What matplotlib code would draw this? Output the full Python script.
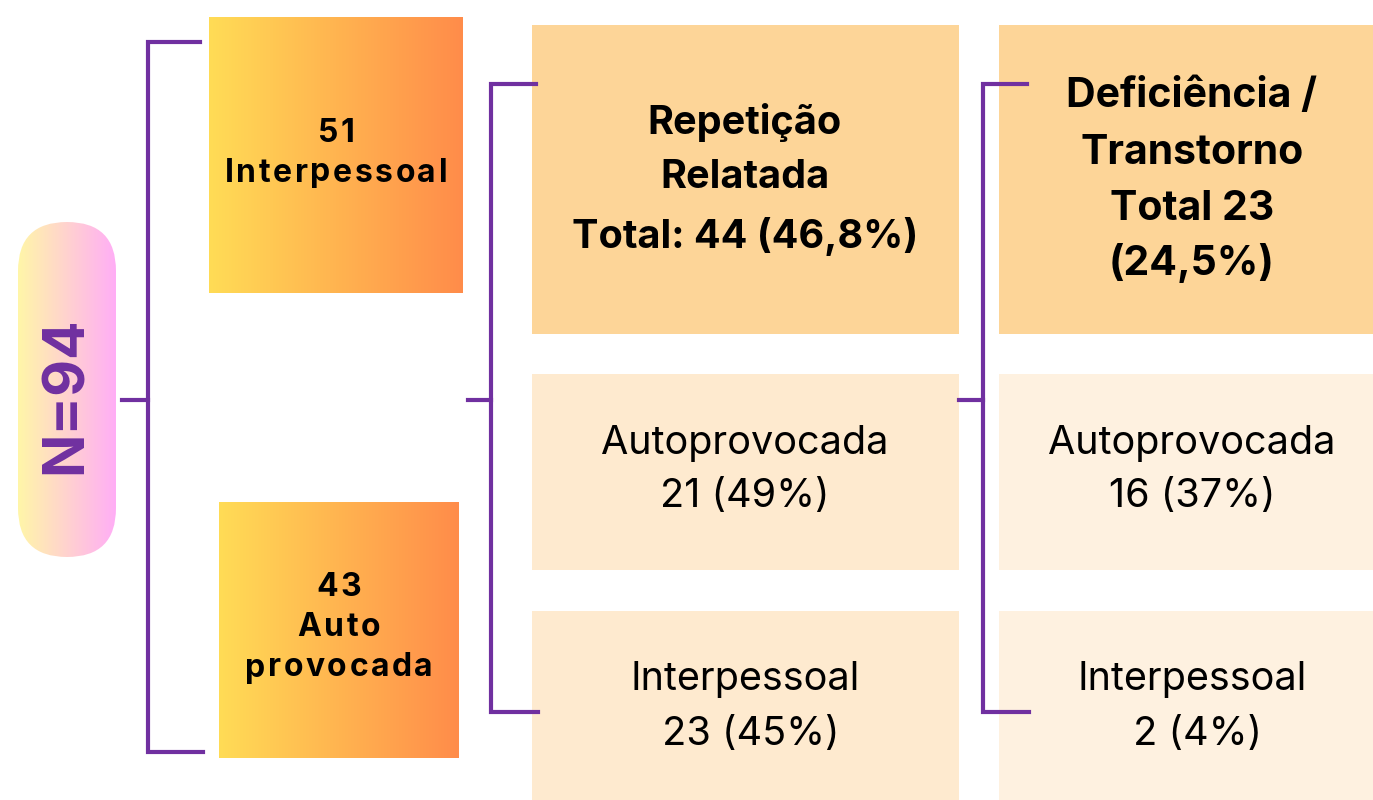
import numpy as np
import matplotlib.pyplot as plt
from matplotlib.patches import Rectangle, FancyBboxPatch
from matplotlib.colors import LinearSegmentedColormap

plt.rcParams['font.family'] = ['Inter', 'DejaVu Sans']

# ----- data
total_n = 94
first_lines = [["51", "Interpessoal"], ["43", "Auto", "provocada"]]
rep_header = ["Repetição", "Relatada", "Total: 44 (46,8%)"]
rep_labels = ["Autoprovocada", "Interpessoal"]
rep_counts = [21, 23]
rep_pcts = [49, 45]
def_header = ["Deficiência /", "Transtorno", "Total 23", "(24,5%)"]
def_labels = ["Autoprovocada", "Interpessoal"]
def_counts = [16, 2]
def_pcts = [37, 4]

# ----- style
PURPLE = '#7030A0'
TOP_FILL = '#FDD598'
MID_FILL_2 = '#FEEACF'
MID_FILL_3 = '#FEF1E0'
LW = 3

fig = plt.figure(figsize=(13.73, 8), dpi=100)
ax = fig.add_axes([0, 0, 1, 1])
ax.set_xlim(0, 1373)
ax.set_ylim(800, 0)
ax.axis('off')
renderer = fig.canvas.get_renderer()

def grad_rect(x0, y0, w, h, c0, c1, rounding=None):
    cmap = LinearSegmentedColormap.from_list('g', [c0, c1])
    grad = np.linspace(0, 1, 256).reshape(1, -1)
    im = ax.imshow(grad, cmap=cmap, aspect='auto',
                   extent=(x0, x0 + w, y0 + h, y0), zorder=1)
    if rounding:
        clip = FancyBboxPatch((x0, y0), w, h,
                              boxstyle=f"round,pad=0,rounding_size={rounding}",
                              facecolor='none', edgecolor='none')
    else:
        clip = Rectangle((x0, y0), w, h, facecolor='none', edgecolor='none')
    ax.add_patch(clip)
    im.set_clip_path(clip)

def lines_text(cx, ys, lines, **kw):
    for y, s in zip(ys, lines):
        ax.text(cx, y, s, ha='center', va='center', color='black', **kw)

def spaced_text(cx, y, s, spacing, **kw):
    # draw letters one by one to get the wide tracking of the original
    widths = []
    for ch in s:
        t = ax.text(0, 0, ch, **kw)
        widths.append(t.get_window_extent(renderer).width)
        t.remove()
    total = sum(widths) + spacing * (len(s) - 1)
    x = cx - total / 2
    for ch, w in zip(s, widths):
        ax.text(x, y, ch, ha='left', va='center', color='black', **kw)
        x += w + spacing

# ----- N pill
grad_rect(18, 222, 98, 335, '#FFF6A8', '#FFAEF6', rounding=49)
ax.text(67, 395, f"N={total_n}", rotation=90, ha='center', va='center',
        color=PURPLE, fontsize=41, fontweight='bold', zorder=3)

# ----- bracket 1
ax.plot([200, 148, 148, 203], [42, 42, 752, 752], color=PURPLE, lw=LW,
        solid_joinstyle='miter', zorder=2)
ax.plot([122, 148], [400, 400], color=PURPLE, lw=LW, zorder=2)

# ----- first-level gradient boxes
grad_rect(209, 17, 254, 276, '#FFDC56', '#FF8C4A')
grad_rect(219, 502, 240, 256, '#FFDC56', '#FF8C4A')
for y, s in zip([133, 173], first_lines[0]):
    spaced_text(336, y, s, 2.6, fontsize=23, fontweight='bold', zorder=3)
for y, s in zip([587, 628, 668], first_lines[1]):
    spaced_text(339, y, s, 2.6, fontsize=23, fontweight='bold', zorder=3)

# ----- bracket 2
ax.plot([536, 491, 491, 538], [84, 84, 712, 712], color=PURPLE, lw=LW,
        solid_joinstyle='miter', zorder=2)
ax.plot([468, 491], [400, 400], color=PURPLE, lw=LW, zorder=2)

# ----- column 2
ax.add_patch(Rectangle((532, 25), 427, 309, facecolor=TOP_FILL, edgecolor='none', zorder=1))
ax.add_patch(Rectangle((532, 374), 427, 196, facecolor=MID_FILL_2, edgecolor='none', zorder=1))
ax.add_patch(Rectangle((532, 611), 427, 189, facecolor=MID_FILL_2, edgecolor='none', zorder=1))
lines_text(745, [122, 178, 236], rep_header, fontsize=28.5, fontweight='bold', zorder=3)
rep_y = [[443, 497], [680, 735]]
for i in range(len(rep_labels)):
    pad = "" if i == 0 else " "
    lines_text(745, rep_y[i], [rep_labels[i], f"{pad}{rep_counts[i]} ({rep_pcts[i]}%)"],
               fontsize=28.5, zorder=3)

# ----- bracket 3
ax.plot([1027, 983, 983, 1029], [84, 84, 712, 712], color=PURPLE, lw=LW,
        solid_joinstyle='miter', zorder=2)
ax.plot([959, 983], [400, 400], color=PURPLE, lw=LW, zorder=2)

# ----- column 3
ax.add_patch(Rectangle((999, 25), 374, 309, facecolor=TOP_FILL, edgecolor='none', zorder=1))
ax.add_patch(Rectangle((999, 374), 374, 196, facecolor=MID_FILL_3, edgecolor='none', zorder=1))
ax.add_patch(Rectangle((999, 611), 374, 189, facecolor=MID_FILL_3, edgecolor='none', zorder=1))
lines_text(1192, [96, 153, 209, 263], def_header, fontsize=29.5, fontweight='bold', zorder=3)
def_y = [[443, 497], [680, 735]]
for i in range(len(def_labels)):
    pad = "" if i == 0 else " "
    lines_text(1192, def_y[i], [def_labels[i], f"{pad}{def_counts[i]} ({def_pcts[i]}%)"],
               fontsize=28.5, zorder=3)

fig.savefig('out.png', dpi=100)
